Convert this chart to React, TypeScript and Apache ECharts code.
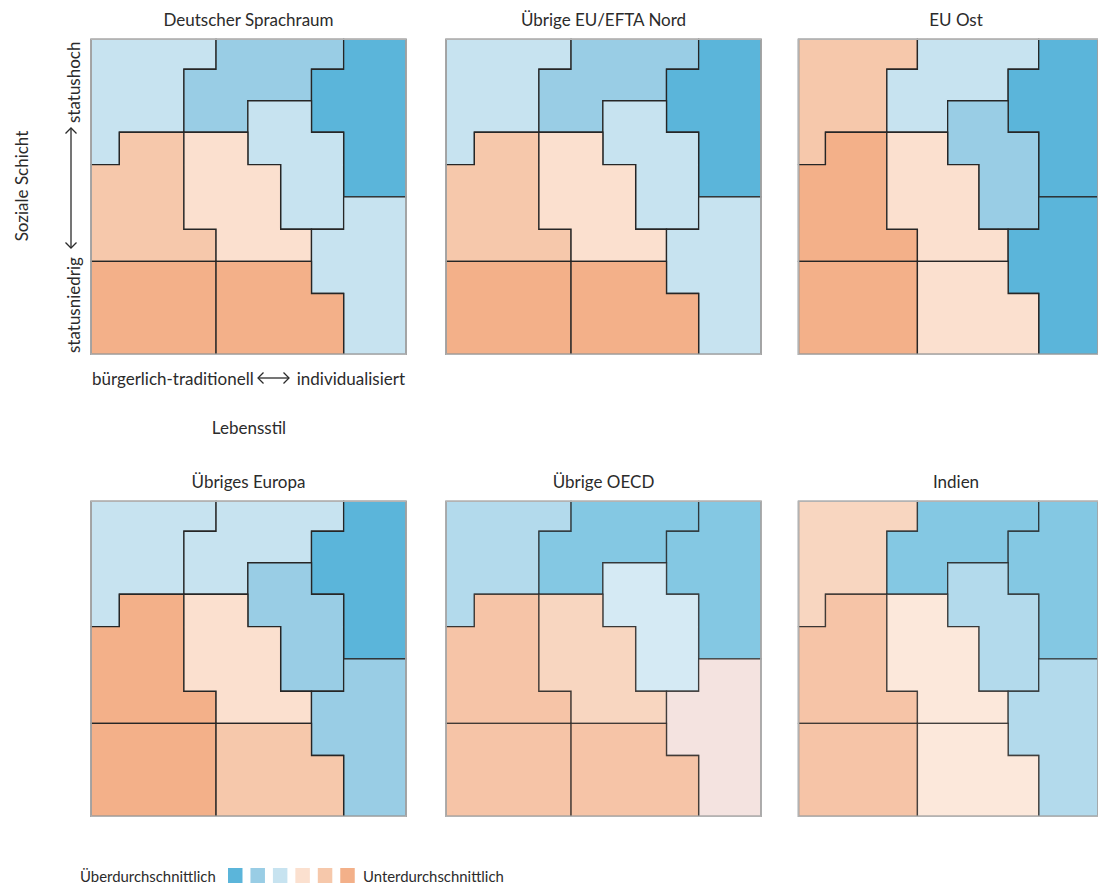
import React, { useEffect, useRef } from "react";
import * as echarts from "echarts";

// ---------- DATA ----------
const panelTitles = [
  "Deutscher Sprachraum",
  "Übrige EU/EFTA Nord",
  "EU Ost",
  "Übriges Europa",
  "Übrige OECD",
  "Indien",
];

// Milieu cell boundaries (Lebensstil x: 0 = bürgerlich-traditionell .. 10 = individualisiert;
// Schicht y: 0 = statushoch .. 10 = statusniedrig)
const xa = 0.9, xb = 2.95, xc = 3.97, xd = 4.98, xe = 6.02, xf = 7.0, xg = 8.02;
const ya = 0.95, yb = 1.95, yc = 2.95, yd = 3.98, ye = 5.0, yf = 6.03, yg = 7.05, yh = 8.07;

const milieuShapes: number[][][] = [
  [[0, 0], [xc, 0], [xc, ya], [xb, ya], [xb, yc], [xa, yc], [xa, yd], [0, yd]],
  [[xc, 0], [xg, 0], [xg, ya], [xf, ya], [xf, yb], [xd, yb], [xd, yc], [xb, yc], [xb, ya], [xc, ya]],
  [[xg, 0], [10, 0], [10, ye], [xg, ye], [xg, yc], [xf, yc], [xf, ya], [xg, ya]],
  [[xd, yb], [xf, yb], [xf, yc], [xg, yc], [xg, yf], [xe, yf], [xe, yd], [xd, yd]],
  [[xa, yc], [xb, yc], [xb, yf], [xc, yf], [xc, yg], [0, yg], [0, yd], [xa, yd]],
  [[xb, yc], [xd, yc], [xd, yd], [xe, yd], [xe, yf], [xf, yf], [xf, yg], [xc, yg], [xc, yf], [xb, yf]],
  [[xg, ye], [10, ye], [10, 10], [xg, 10], [xg, yh], [xf, yh], [xf, yf], [xg, yf]],
  [[0, yg], [xc, yg], [xc, 10], [0, 10]],
  [[xc, yg], [xf, yg], [xf, yh], [xg, yh], [xg, 10], [xc, 10]],
];

// level per milieu: 1 = stark überdurchschnittlich ... 6 = stark unterdurchschnittlich, 0 = durchschnittlich
const valuesDeutscherSprachraum = [3, 2, 1, 3, 5, 4, 3, 6, 6];
const valuesEftaNord = [3, 2, 1, 3, 5, 4, 3, 6, 6];
const valuesEuOst = [5, 3, 1, 2, 6, 4, 1, 6, 4];
const valuesUebrigesEuropa = [3, 3, 1, 2, 6, 4, 2, 6, 5];
const valuesUebrigeOecd = [2, 1, 1, 3, 6, 5, 0, 6, 6];
const valuesIndien = [5, 1, 1, 2, 6, 4, 2, 6, 4];

const panelValues = [
  valuesDeutscherSprachraum,
  valuesEftaNord,
  valuesEuOst,
  valuesUebrigesEuropa,
  valuesUebrigeOecd,
  valuesIndien,
];

const legendLeft = "Überdurchschnittlich";
const legendRight = "Unterdurchschnittlich";

// ---------- STYLE ----------
const levelColors: Record<number, string> = {
  0: "#f0d9d5",
  1: "#5bb5da",
  2: "#99cde5",
  3: "#c7e3f0",
  4: "#fbe0cf",
  5: "#f6c8ab",
  6: "#f3b089",
};
const legendLevels = [1, 2, 3, 4, 5, 6];
const panelOpacity = [1, 1, 1, 1, 0.75, 0.75];
const panelLefts = [91, 446, 798.5, 91, 446, 798.5];
const panelTops = [39.3, 39.3, 39.3, 501.3, 501.3, 501.3];
const PANEL = 315;
const FONT = "Lato, 'Noto Sans', sans-serif";
const TXT = "#2b2b2b";

export default function App() {
  const ref = useRef<HTMLDivElement>(null);

  useEffect(() => {
    if (!ref.current) return;
    const chart = echarts.init(ref.current, undefined, { renderer: "svg" });

    const grids: any[] = [];
    const xAxes: any[] = [];
    const yAxes: any[] = [];
    const series: any[] = [];

    panelValues.forEach((vals, i) => {
      grids.push({ left: panelLefts[i], top: panelTops[i], width: PANEL, height: PANEL, show: false });
      xAxes.push({ gridIndex: i, type: "value", min: 0, max: 10, show: false });
      yAxes.push({ gridIndex: i, type: "value", min: 0, max: 10, inverse: true, show: false });
      const op = panelOpacity[i];
      series.push({
        type: "custom",
        xAxisIndex: i,
        yAxisIndex: i,
        silent: true,
        data: vals.map((v, k) => [k, v]),
        renderItem: (_p: any, api: any) => {
          const k = api.value(0);
          const v = api.value(1);
          const pts = milieuShapes[k].map((pt) => api.coord(pt));
          return {
            type: "polygon",
            shape: { points: pts },
            style: {
              fill: levelColors[v],
              stroke: "#262626",
              lineWidth: 1.3,
              opacity: op,
            },
          };
        },
      });
      series.push({
        type: "custom",
        xAxisIndex: i,
        yAxisIndex: i,
        silent: true,
        z: 5,
        data: [[0, 0]],
        renderItem: (_p: any, api: any) => {
          const a = api.coord([0, 0]);
          const b = api.coord([10, 10]);
          return {
            type: "rect",
            shape: { x: a[0], y: a[1], width: b[0] - a[0], height: b[1] - a[1] },
            style: { fill: "none", stroke: "#b3b3b3", lineWidth: 1.6 },
          };
        },
      });
    });

    const graphic: any[] = [];
    panelTitles.forEach((t, i) => {
      graphic.push({
        type: "text",
        x: panelLefts[i] + PANEL / 2,
        y: panelTops[i] - 20,
        style: { text: t, font: `17px ${FONT}`, fill: TXT, align: "center", verticalAlign: "middle" },
      });
    });

    // axis labels
    graphic.push({
      type: "text",
      x: 21,
      y: 186,
      rotation: Math.PI / 2,
      style: { text: "Soziale Schicht", font: `17px ${FONT}`, fill: TXT, align: "center", verticalAlign: "middle" },
    });
    graphic.push({
      type: "text",
      x: 73,
      y: 123,
      rotation: Math.PI / 2,
      style: { text: "statushoch", font: `17px ${FONT}`, fill: TXT, align: "left", verticalAlign: "middle" },
    });
    graphic.push({
      type: "text",
      x: 73,
      y: 353,
      rotation: Math.PI / 2,
      style: { text: "statusniedrig", font: `17px ${FONT}`, fill: TXT, align: "left", verticalAlign: "middle" },
    });
    const arrowStyle = { stroke: "#2b2b2b", lineWidth: 1.3, fill: "none" };
    graphic.push({ type: "line", shape: { x1: 71, y1: 128, x2: 71, y2: 248 }, style: arrowStyle });
    graphic.push({ type: "polyline", shape: { points: [[65.5, 133.5], [71, 128], [76.5, 133.5]] }, style: arrowStyle });
    graphic.push({ type: "polyline", shape: { points: [[65.5, 242.5], [71, 248], [76.5, 242.5]] }, style: arrowStyle });

    graphic.push({
      type: "text",
      x: 92,
      y: 378,
      style: { text: "bürgerlich-traditionell", font: `17px ${FONT}`, fill: TXT, align: "left", verticalAlign: "middle" },
    });
    graphic.push({
      type: "text",
      x: 405,
      y: 378,
      style: { text: "individualisiert", font: `17px ${FONT}`, fill: TXT, align: "right", verticalAlign: "middle" },
    });
    graphic.push({ type: "line", shape: { x1: 258, y1: 378, x2: 289, y2: 378 }, style: arrowStyle });
    graphic.push({ type: "polyline", shape: { points: [[263.5, 372.5], [258, 378], [263.5, 383.5]] }, style: arrowStyle });
    graphic.push({ type: "polyline", shape: { points: [[283.5, 372.5], [289, 378], [283.5, 383.5]] }, style: arrowStyle });
    graphic.push({
      type: "text",
      x: 249,
      y: 427,
      style: { text: "Lebensstil", font: `17px ${FONT}`, fill: TXT, align: "center", verticalAlign: "middle" },
    });

    // legend
    graphic.push({
      type: "text",
      x: 80,
      y: 876,
      style: { text: legendLeft, font: `14.9px ${FONT}`, fill: TXT, align: "left", verticalAlign: "middle" },
    });
    legendLevels.forEach((lv, j) => {
      graphic.push({
        type: "rect",
        shape: { x: 228 + j * 22.45, y: 868, width: 14.5, height: 15 },
        style: { fill: levelColors[lv] },
      });
    });
    graphic.push({
      type: "text",
      x: 363,
      y: 876,
      style: { text: legendRight, font: `14.9px ${FONT}`, fill: TXT, align: "left", verticalAlign: "middle" },
    });

    chart.setOption({
      animation: false,
      backgroundColor: "#ffffff",
      grid: grids,
      xAxis: xAxes,
      yAxis: yAxes,
      series,
      graphic: { elements: graphic },
    });

    return () => chart.dispose();
  }, []);

  return (
    <div
      ref={ref}
      style={{ position: "absolute", left: 0, top: 0, width: 1098, height: 888, background: "#fff" }}
    />
  );
}
